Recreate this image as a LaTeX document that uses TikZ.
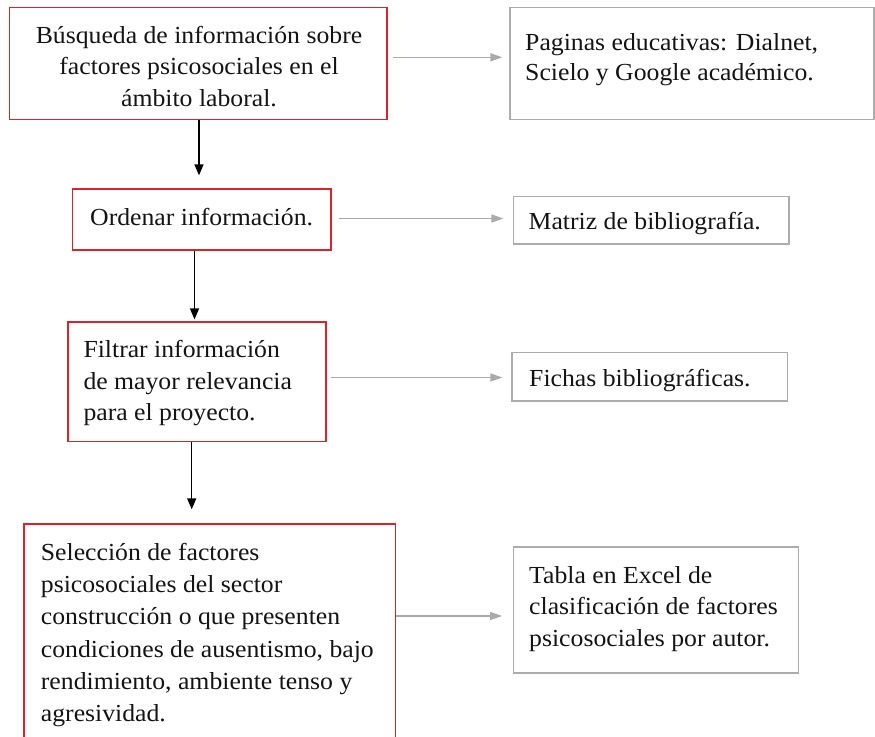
\documentclass[tikz,border=0pt]{standalone}
\usepackage{fontspec}
\setmainfont{Liberation Serif}[FakeStretch=1.05]
\usetikzlibrary{arrows.meta}
\definecolor{boxred}{RGB}{218,36,42}
\definecolor{boxgray}{RGB}{172,172,172}
\definecolor{argray}{RGB}{170,170,170}
\definecolor{txtcol}{RGB}{20,20,20}
\newcommand\mylinesL[2]{\vtop{\baselineskip=#1pt\lineskiplimit=-100pt\lineskip=0pt\halign{##\hfil\cr#2\crcr}}}
\newcommand\mylinesC[2]{\vtop{\baselineskip=#1pt\lineskiplimit=-100pt\lineskip=0pt\halign{\hfil##\hfil\cr#2\crcr}}}
\tikzset{
  redbox/.style={draw=boxred, line width=1.3pt, inner sep=0pt},
  graybox/.style={draw=boxgray, line width=1.3pt, inner sep=0pt},
  txt/.style={inner sep=0pt, text=txtcol, font=\fontsize{24.5}{31.5}\selectfont},
  garrow/.style={draw=argray, line width=1.5pt, -{Triangle[length=12pt,width=8pt]}},
  karrow/.style={draw=black, line width=1.3pt, -{Triangle[length=11pt,width=9pt]}}
}
\begin{document}
\begin{tikzpicture}[x=1pt,y=-1pt]
\clip (0,0) rectangle (875,736);
\fill[white] (0,0) rectangle (875,736);
% boxes
\node[redbox, minimum width=377.7pt, minimum height=112pt] (b1) at (198.2,63.3) {};
\node[graybox, minimum width=364pt, minimum height=112pt] (r1) at (692,63.3) {};
\node[redbox, minimum width=258.3pt, minimum height=61pt] (b2) at (201.9,219.5) {};
\node[graybox, minimum width=275.7pt, minimum height=47.5pt] (r2) at (651.2,220.3) {};
\node[redbox, minimum width=258pt, minimum height=119.7pt] (b3) at (197,381.9) {};
\node[graybox, minimum width=275.3pt, minimum height=48.7pt] (r3) at (649.7,376.7) {};
\node[redbox, minimum width=371.7pt, minimum height=260pt] (b4) at (209.9,654) {};
\node[graybox, minimum width=285.3pt, minimum height=126pt] (r4) at (656,610) {};
% texts
\node[txt, anchor=base] (t1) at (199,43) {\mylinesC{31.5}{Búsqueda de información sobre\cr factores psicosociales en el\cr ámbito laboral.}};
\node[txt, anchor=base west] (s1) at (525,50.5) {\mylinesL{30}{Paginas educativas: Dialnet,\cr Scielo y Google académico.}};
\node[txt, anchor=base west] (t2) at (90,225) {Ordenar información.};
\node[txt, anchor=base west] (s2) at (528.5,229) {Matriz de bibliografía.};
\node[txt, anchor=base west] (t3) at (83.3,357.5) {\mylinesL{31.7}{Filtrar información\cr de mayor relevancia\cr para el proyecto.}};
\node[txt, anchor=base west] (s3) at (529,386) {Fichas bibliográficas.};
\node[txt, anchor=base west] (t4) at (40.7,560.5) {\mylinesL{32.2}{Selección de factores\cr psicosociales del sector\cr construcción o que presenten\cr condiciones de ausentismo, bajo\cr rendimiento, ambiente tenso y\cr agresividad.}};
\node[txt, anchor=base west] (s4) at (529,583) {\mylinesL{31.7}{Tabla en Excel de\cr clasificación de factores\cr psicosociales por autor.}};
% horizontal connectors
\coordinate (a1) at ([xshift=5pt,yshift=6pt]b1.east);
\coordinate (a2) at ([xshift=7pt,yshift=1pt]b2.east);
\coordinate (a3) at ([xshift=4.7pt,yshift=4.4pt]b3.east);
\coordinate (a4) at ([yshift=38pt]b4.east);
\draw[garrow, shorten >=7pt] (a1) -- (a1 -| r1.west);
\draw[garrow, shorten >=9.3pt] (a2) -- (a2 -| r2.west);
\draw[garrow, shorten >=9pt] (a3) -- (a3 -| r3.west);
\draw[garrow, shorten >=10.6pt] (a4) -- (a4 -| r4.west);
% vertical connectors
\coordinate (d1) at ([xshift=0.8pt]b1.south);
\coordinate (d2) at ([xshift=-7.4pt]b2.south);
\coordinate (d3) at ([xshift=-5.3pt]b3.south);
\draw[karrow, shorten >=13pt] (d1) -- (d1 |- b2.north);
\draw[karrow, shorten >=2pt] (d2) -- (d2 |- b3.north);
\draw[karrow, shorten >=14pt] (d3) -- (d3 |- b4.north);
\end{tikzpicture}
\end{document}
